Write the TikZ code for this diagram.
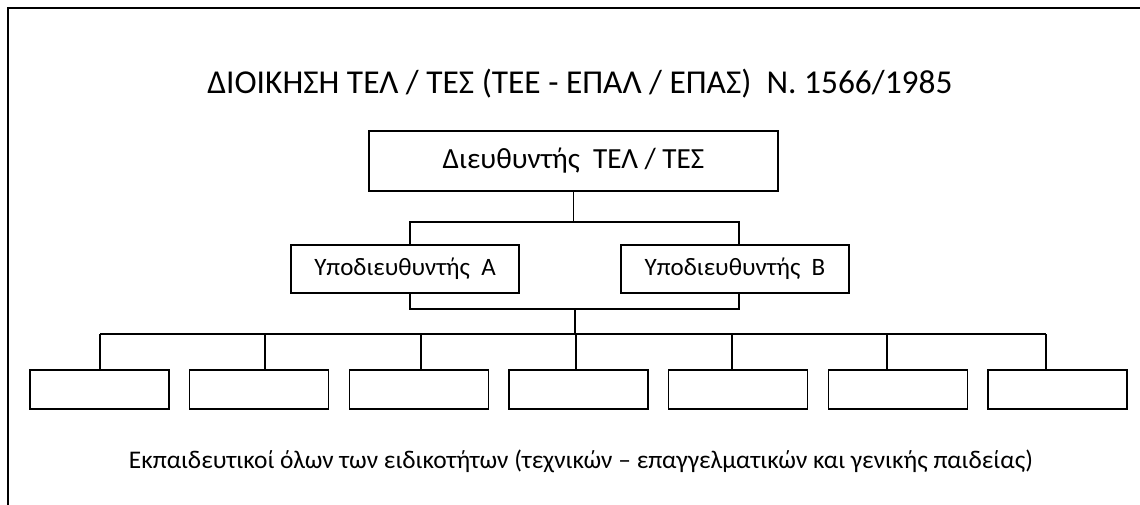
\documentclass[tikz,border=0pt]{standalone}
\usepackage{fontspec}
\setmainfont{Carlito}
\usetikzlibrary{positioning,calc}

\begin{document}
\begin{tikzpicture}[x=1pt,y=-1pt,
    frame/.style={line width=2.6pt},
    conn/.style={line width=1.6pt},
    box/.style={draw,line width=1.6pt,inner sep=0pt,align=center},
    unitbox/.style={box,minimum width=139pt,minimum height=39pt}]
                \useasboundingbox (0,0) rectangle (1140,504);
                \draw[frame] (1150,8) -- (8,8) -- (8,514);
                % title and bottom text
                \node (title) at (580,84) {\fontsize{33.4}{40}\selectfont ΔΙΟΙΚΗΣΗ ΤΕΛ / ΤΕΣ (ΤΕΕ - ΕΠΑΛ / ΕΠΑΣ)~ Ν. 1566/1985};
                \node (staff) at (581,461) {\fontsize{25.4}{30}\selectfont Εκπαιδευτικοί όλων των ειδικοτήτων (τεχνικών – επαγγελματικών και γενικής παιδείας)};
                % director and deputies
                \node[box,minimum width=409pt,minimum height=60pt] (dir) at (573.5,161) {\fontsize{29.2}{35}\selectfont Διευθυντής~ ΤΕΛ / ΤΕΣ};
                \node[box,minimum width=228pt,minimum height=48pt] (subA) at (405,269) {\fontsize{25}{30}\selectfont Υποδιευθυντής~ Α};
                \node[box,minimum width=228pt,minimum height=48pt] (subB) at (735,269) {\fontsize{25}{30}\selectfont Υποδιευθυντής~ Β};
                \coordinate (jtop) at (575,222);
                \coordinate (jbot) at (575,309);
                \draw[conn] (dir.south) -- (dir.south |- jtop);
                \draw[conn] ([xshift=5pt]subA.north) |- (jtop) -| ([xshift=4pt]subB.north);
                \draw[conn] ([xshift=5pt]subA.south) |- (jbot) -| ([xshift=4pt]subB.south);
                % teachers row
                \foreach \i/\sx in {1/100,2/265,3/421,4/576,5/732,6/887,7/1046} {
                    \node[unitbox] (t\i) at (99.5+159.67*\i-159.67,389.5) {};
                    \coordinate (s\i) at (\sx,334);
                    \draw[conn] (s\i) -- (s\i |- t\i.north);
                }
                \draw[conn] (s1) -- (s7);
                \draw[conn] (jbot) -- (jbot |- s4);
            \end{tikzpicture}
\end{document}
